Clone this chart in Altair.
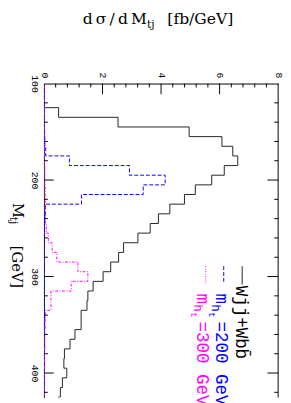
import altair as alt
import pandas as pd

# ---- data ----
# lower edges of the 10 GeV Mtj bins
mtj_lo = [95, 105, 115, 125, 135, 145, 155, 165, 175, 185, 195, 205, 215, 225, 235,
          245, 255, 265, 275, 285, 295, 305, 315, 325, 335, 345, 355, 365, 375, 385,
          395, 405, 415, 425]
mtj_end = 435
# W jj + W bb background
bkg = [0, 0, 0, 0.50, 2.53, 4.96, 6.08, 6.45, 6.62, 6.16, 5.73, 5.17, 4.80, 4.30, 3.91,
       3.63, 3.21, 2.72, 2.55, 2.28, 2.02, 1.68, 1.50, 1.47, 1.27, 1.27, 1.06, 0.89, 0.70, 0.68,
       0.78, 0.63, 0.56, 0.50]
# signal m_ht = 200 GeV
sig200 = [0.01, 0.01, 0.01, 0.01, 0.01, 0.02, 0.03, 0.06, 0.87, 2.92, 4.14, 3.39, 1.28, 0.05, 0.03,
          0.02, 0.02, 0.01, 0.01, 0.01, 0.01, 0.01, 0.01, 0.01, 0.01, 0.01, 0.01, 0.01, 0.01, 0.01,
          0.01, 0.01, 0.01, 0.01]
# signal m_ht = 300 GeV
sig300 = [0.01, 0.01, 0.01, 0.01, 0.01, 0.01, 0.02, 0.02, 0.02, 0.03, 0.03, 0.04, 0.04, 0.05, 0.05,
          0.08, 0.15, 0.28, 0.44, 1.16, 1.50, 0.93, 0.24, 0.24, 0.05, 0.04, 0.03, 0.03, 0.02, 0.02,
          0.02, 0.01, 0.01, 0.01]

x_labels = [0, 2, 4, 6, 8]
x_major = [2, 4, 6]
x_minor = [0.4, 0.8, 1.2, 1.6, 2.4, 2.8, 3.2, 3.6, 4.4, 4.8, 5.2, 5.6, 6.4, 6.8, 7.2, 7.6]
y_labels = [100, 200, 300, 400]
y_major = [200, 300, 400]
y_minor = [120, 140, 160, 180, 220, 240, 260, 280, 320, 340, 360, 380, 420]

TS = "\u2009"  # thin space
title_main = TS.join(["d", "σ", "/", "d", "M"])
title_sub = "tj"
title_unit = "[fb/GeV]"
ylab_main = "M"
ylab_sub = "tj"
ylab_unit = "[GeV]"
leg_bkg = "Wjj+Wbb\u0304"
leg_m = "m"
leg_h = "h"
leg_t = "t"
leg_200 = "=200 GeV"
leg_300 = "=300 GeV"

# ---- layout ----
W, H = 241, 323
YMAX = 100 + H / 0.993
MONO = "Liberation Mono"
SERIF = "DejaVu Serif"
BLUE = "#0000ff"
MAG = "#ff00ff"

xscale = alt.Scale(domain=[0, 8], nice=False, zero=False)
yscale = alt.Scale(domain=[100, YMAX], reverse=True, nice=False, zero=False)

x_axis = alt.Axis(orient="top", values=x_labels, ticks=False, labelAngle=90,
                  labelAlign="center", labelBaseline="middle", labelPadding=9,
                  labelFont=MONO, labelFontSize=10, labelColor="black", domainColor="black",
                  grid=False, title=None, labelFlush=False, labelOverlap=False, format="d")
y_axis = alt.Axis(orient="left", values=y_labels, ticks=False, labelAngle=90,
                  labelAlign="center", labelBaseline="middle", labelPadding=10,
                  labelFont=MONO, labelFontSize=10, labelColor="black", domainColor="#222222",
                  grid=False, title=None, labelFlush=False, labelOverlap=False, format="d")


def series_df(vals):
    return pd.DataFrame({"m": mtj_lo + [mtj_end], "v": vals + [vals[-1]]})


def hist(vals, color, dash=None):
    kw = dict(interpolate="step-before", clip=True, color=color, strokeWidth=1)
    if dash:
        kw["strokeDash"] = dash
    return alt.Chart(series_df(vals)).mark_line(**kw).encode(
        x=alt.X("v:Q", scale=xscale, axis=x_axis),
        y=alt.Y("m:Q", scale=yscale, axis=y_axis),
        order="m:Q",
    )


def xticks(vals, length):
    return alt.Chart(pd.DataFrame({"v": vals})).mark_rule(color="black", strokeWidth=1).encode(
        x=alt.X("v:Q", scale=xscale, axis=x_axis), y=alt.value(0), y2=alt.value(length))


def yticks(vals, x1, x2):
    return alt.Chart(pd.DataFrame({"m": vals})).mark_rule(color="black", strokeWidth=1).encode(
        y=alt.Y("m:Q", scale=yscale, axis=y_axis), x=alt.value(x1), x2=alt.value(x2))


def text(txt, x, y, size, color="black", font=MONO, angle=90):
    return alt.Chart(pd.DataFrame({"t": [txt]})).mark_text(
        font=font, fontSize=size, color=color, angle=angle, align="left", baseline="alphabetic"
    ).encode(x=alt.value(x), y=alt.value(y), text="t:N")


def sym(x, y1, y2, color, dash=None):
    kw = dict(color=color, strokeWidth=1)
    if dash:
        kw["strokeDash"] = dash
    return alt.Chart(pd.DataFrame({"a": [0]})).mark_rule(**kw).encode(
        x=alt.value(x), y=alt.value(y1), y2=alt.value(y2))


right_border = alt.Chart(pd.DataFrame({"a": [0]})).mark_rule(color="black").encode(
    x=alt.value(W), y=alt.value(0), y2=alt.value(H))

layers = [
    hist(bkg, "#222222"),
    hist(sig200, BLUE, [4, 2]),
    hist(sig300, MAG, [3, 1.5, 1, 1.5]),
    xticks(x_minor, 4), xticks(x_major, 11),
    yticks(y_minor, 0, 4), yticks(y_major, 0, 10),
    yticks(y_minor, W - 4, W), yticks(y_major, W - 11, W),
    right_border,
    # title
    text(title_main, 40, -61, 16, font=SERIF, angle=0),
    text(title_sub, 106, -57, 11, font=SERIF, angle=0),
    text(title_unit, 127, -61, 16, font=SERIF, angle=0),
    # y axis title
    text(ylab_main, -32, 123, 15, font=SERIF),
    text(ylab_sub, -34.5, 137, 11, font=SERIF),
    text(ylab_unit, -33, 167, 15, font=SERIF),
    # legend
    sym(204, 188, 207, "#222222"),
    text(leg_bkg, 198, 208, 18),
    sym(185, 188, 206, BLUE, [4, 2]),
    text(leg_m, 177, 216, 18, BLUE),
    text(leg_h, 173, 227, 13, BLUE),
    text(leg_t, 170, 235, 10, BLUE),
    text(leg_200, 177, 245, 18, BLUE),
    sym(166.5, 188, 206, MAG, [1, 1.5]),
    text(leg_m, 158, 216, 18, MAG),
    text(leg_h, 154, 227, 13, MAG),
    text(leg_t, 151, 235, 10, MAG),
    text(leg_300, 158, 245, 18, MAG),
]

chart = alt.layer(*layers).properties(
    width=W, height=H,
    autosize=alt.AutoSizeParams(type="none"),
    padding={"left": 37, "top": 72, "right": 5, "bottom": 0},
).configure_view(stroke=None)

chart.save("out.html", embed_options={"renderer": "svg", "actions": False})
